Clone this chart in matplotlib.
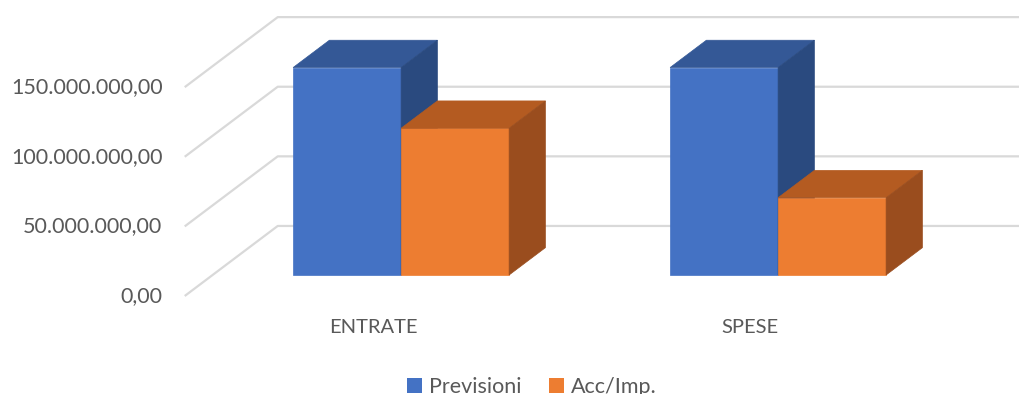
import matplotlib.pyplot as plt
from matplotlib.patches import Polygon, Patch

categories = ['ENTRATE', 'SPESE']
series = ['Previsioni', 'Acc/Imp.']
# values in millions of euro
previsioni = [149.0, 149.0]
acc_imp = [105.4, 55.5]
ticks = [0, 50, 100, 150]
tick_labels = ['0,00', '50.000.000,00', '100.000.000,00', '150.000.000,00']

face_colors = {
    'Previsioni': ('#4472C4', '#345896', '#2A4A7F'),
    'Acc/Imp.': ('#ED7D31', '#B45B21', '#9A4D1E'),
}

plt.rcParams['font.family'] = ['Lato', 'DejaVu Sans']
TEXT = '#595959'
GRID = '#D9D9D9'

# oblique projection: one unit of depth shifts right and up
DEPTH_DX = 0.2467
DEPTH_DY = 50.3
BAR_W = 0.2865
BAR_D0, BAR_D1 = 0.30, 0.69


def proj(x, v, d):
    return x + d * DEPTH_DX, v + d * DEPTH_DY


fig = plt.figure(figsize=(10.19, 3.94), dpi=100)
ax = fig.add_axes([0, 0, 1, 1])
ax.set_xlim(-0.99, 1.713)
ax.set_ylim(-70.4, 212.6)
ax.axis('off')

# gridlines: diagonal on the side wall, then flat along the back wall
x_left, x_right = -0.5, len(categories) - 0.5
for v, lab in zip(ticks, tick_labels):
    pts = [proj(x_left, v, 0), proj(x_left, v, 1), proj(x_right + 0.2, v, 1)]
    ax.plot([p[0] for p in pts], [p[1] for p in pts], color=GRID, lw=1.6,
            zorder=1, solid_capstyle='butt')
    ax.annotate(lab, proj(x_left, v, 0), xytext=(-16, 0), textcoords='offset points',
                ha='right', va='center', fontsize=15.5, color=TEXT)


def draw_bar(x0, x1, v, colors):
    front, top, side = colors
    faces = [
        ([proj(x0, 0, BAR_D0), proj(x1, 0, BAR_D0), proj(x1, v, BAR_D0), proj(x0, v, BAR_D0)], front),
        ([proj(x0, v, BAR_D0), proj(x1, v, BAR_D0), proj(x1, v, BAR_D1), proj(x0, v, BAR_D1)], top),
        ([proj(x1, 0, BAR_D0), proj(x1, 0, BAR_D1), proj(x1, v, BAR_D1), proj(x1, v, BAR_D0)], side),
    ]
    for pts, c in faces:
        ax.add_patch(Polygon(pts, closed=True, facecolor=c, edgecolor=c, lw=0.5, zorder=3))


for i, cat in enumerate(categories):
    draw_bar(i - BAR_W, i, previsioni[i], face_colors['Previsioni'])
    draw_bar(i, i + BAR_W, acc_imp[i], face_colors['Acc/Imp.'])
    ax.annotate(cat, proj(i, 0, 0), xytext=(0, -23), textcoords='offset points',
                ha='center', va='center', fontsize=14.5, color=TEXT)

handles = [Patch(facecolor=face_colors[s][0], label=s) for s in series]
fig.legend(handles=handles, loc='center', bbox_to_anchor=(0.522, 0.018), ncol=2,
           frameon=False, fontsize=15.5, labelcolor=TEXT, handlelength=0.7,
           handleheight=0.7, handletextpad=0.3, columnspacing=1.3)

fig.savefig('out.png', dpi=100)
